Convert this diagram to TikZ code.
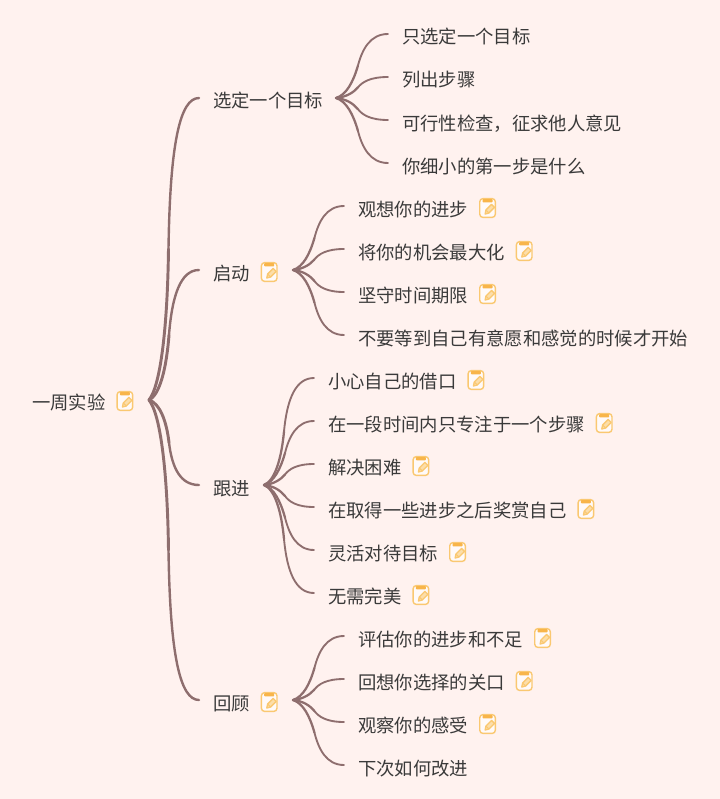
\documentclass[tikz,border=0pt]{standalone}
\usepackage{fontspec}
\setmainfont{Noto Sans CJK SC}
\usetikzlibrary{calc}
\definecolor{bg}{HTML}{FFF2EF}
\definecolor{linec}{HTML}{8E6E6E}
\definecolor{txt}{HTML}{3A3A3A}
\definecolor{iconc}{HTML}{FAC871}
\definecolor{iconbar}{HTML}{F8B54A}
\tikzset{
  lab/.style={anchor=west,inner xsep=10.5pt,inner ysep=0pt,text=txt,font=\fontsize{13.75pt}{15pt}\selectfont,text height=15pt,text depth=0pt},
  note/.pic={
    \draw[iconc,line width=1.05pt,fill=white!65!bg,rounded corners=2.4pt] (-7.8,-9.4) rectangle (7.8,9.4);
    \fill[iconbar,rounded corners=0.6pt] (-5,-9) rectangle (5,-5.6);
    \draw[iconc,line width=1pt,line cap=round,line join=round,fill=white!40!iconc] (-2.4,6) -- (-1.6,2) -- (4,-3.6) -- (7,-0.6) -- (1.4,5) -- cycle;
    \draw[iconc,line width=0.8pt] (-1.6,2) -- (1.4,5);
  }
}
% curve shapes, as fractions of the connector's width and height
\newcommand{\shapetall}{\def\sm{.39}\def\sa{.24}\def\saa{.05}\def\sb{.37}\def\sc{.42}\def\scc{.85}\def\sd{.62}}
\newcommand{\shapemid}{\def\sm{.40}\def\sa{.22}\def\saa{.04}\def\sb{.35}\def\sc{.46}\def\scc{.80}\def\sd{.63}}
\newcommand{\shapelow}{\def\sm{.42}\def\sa{.20}\def\saa{.05}\def\sb{.33}\def\sc{.50}\def\scc{.75}\def\sd{.65}}
% connector: #1 start, #2 end, #3 width of the whole curve, #4 width of its first half
\newcommand{\conn}[4]{%
  \path let \p1=(#1),\p2=(#2),\n1={\x2-\x1},\n2={\y2-\y1} in
    coordinate (Pm) at (\x1+\sm*\n1,\y1+.5*\n2)
    coordinate (Pa) at (\x1+\sa*\n1,\y1+\saa*\n2)
    coordinate (Pb) at (\x1+\sb*\n1,\y1+.25*\n2)
    coordinate (Pc) at (\x1+\sc*\n1,\y1+\scc*\n2)
    coordinate (Pd) at (\x1+\sd*\n1,\y2);
  \draw[linec,line width=#4,line cap=round] (#1) .. controls (Pa) and (Pb) .. (Pm);
  \draw[linec,line width=#3,line cap=round] (Pm) .. controls (Pc) and (Pd) .. (#2);
}
\newcommand{\noteat}[1]{\pic at ($(#1.east)+(5,2)$) {note};}
\begin{document}
\begin{tikzpicture}[x=0.75pt,y=-0.75pt]
\fill[bg] (0,0) rectangle (720,799);
\useasboundingbox (0,0) rectangle (720,799);

\node[lab] (root) at (18,399) {一周实验};
\noteat{root}
\coordinate (r0) at (149,400);

\node[lab] (a) at (199,98) {选定一个目标};
\node[lab] (b) at (199,270) {启动}; \noteat{b}
\node[lab] (c) at (199,485) {跟进};
\node[lab] (d) at (199,700) {回顾}; \noteat{d}
\coordinate (ra) at (336,98);
\coordinate (rb) at (293,270);
\coordinate (rc) at (264,485);
\coordinate (rd) at (293,700);

\node[lab] (a1) at (388,34) {只选定一个目标};
\node[lab] (a2) at (388,77) {列出步骤};
\node[lab] (a3) at (388,120) {可行性检查，征求他人意见};
\node[lab] (a4) at (388,163) {你细小的第一步是什么};

\node[lab] (b1) at (344,206) {观想你的进步}; \noteat{b1}
\node[lab] (b2) at (344,249) {将你的机会最大化}; \noteat{b2}
\node[lab] (b3) at (344,292) {坚守时间期限}; \noteat{b3}
\node[lab] (b4) at (344,335) {不要等到自己有意愿和感觉的时候才开始};

\node[lab] (c1) at (314,378) {小心自己的借口}; \noteat{c1}
\node[lab] (c2) at (314,421) {在一段时间内只专注于一个步骤}; \noteat{c2}
\node[lab] (c3) at (314,464) {解决困难}; \noteat{c3}
\node[lab] (c4) at (314,507) {在取得一些进步之后奖赏自己}; \noteat{c4}
\node[lab] (c5) at (314,550) {灵活对待目标}; \noteat{c5}
\node[lab] (c6) at (314,593) {无需完美}; \noteat{c6}

\node[lab] (d1) at (344,636) {评估你的进步和不足}; \noteat{d1}
\node[lab] (d2) at (344,679) {回想你选择的关口}; \noteat{d2}
\node[lab] (d3) at (344,722) {观察你的感受}; \noteat{d3}
\node[lab] (d4) at (344,765) {下次如何改进};

\shapetall
\foreach \kid in {a,d} {\conn{r0}{\kid.west}{1.8pt}{2.2pt}}
\shapemid
\foreach \kid in {b,c} {\conn{r0}{\kid.west}{1.8pt}{2.2pt}}
\foreach \kid in {c1,c6} {\conn{rc}{\kid.west}{1.4pt}{1.7pt}}
\shapelow
\foreach \kid in {a1,a2,a3,a4} {\conn{ra}{\kid.west}{1.4pt}{1.7pt}}
\foreach \kid in {b1,b2,b3,b4} {\conn{rb}{\kid.west}{1.4pt}{1.7pt}}
\foreach \kid in {c2,c3,c4,c5} {\conn{rc}{\kid.west}{1.4pt}{1.7pt}}
\foreach \kid in {d1,d2,d3,d4} {\conn{rd}{\kid.west}{1.4pt}{1.7pt}}
\end{tikzpicture}
\end{document}
